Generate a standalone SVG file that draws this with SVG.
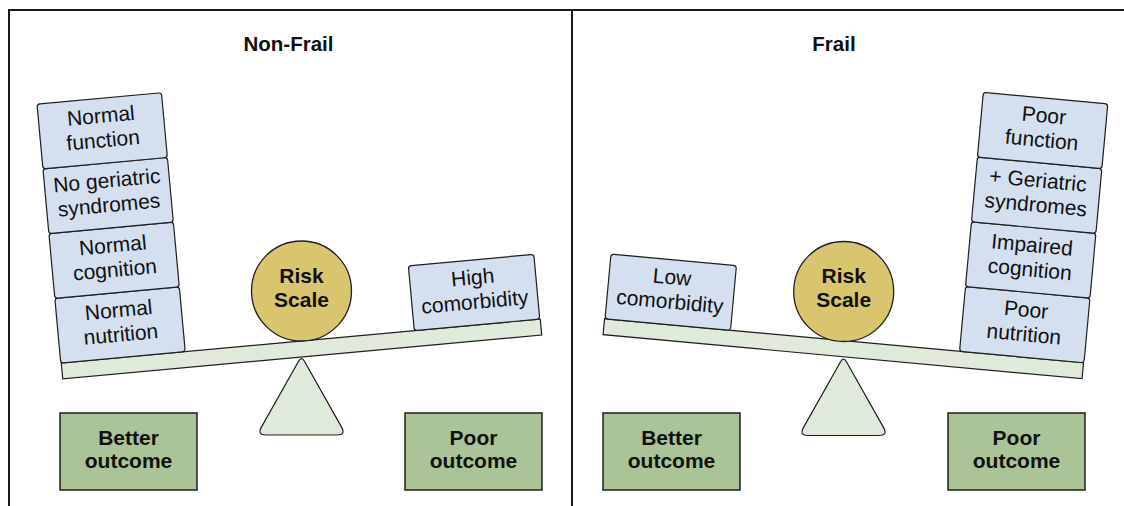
<svg xmlns="http://www.w3.org/2000/svg" width="1124" height="506" viewBox="0 0 1124 506">
  <style>
    .frame { fill: none; stroke: #1a1a1a; stroke-width: 2; }
    .card { fill: #d4dff0; stroke: #1f1f1f; stroke-width: 1.2; }
    .beam { fill: #e0eadb; stroke: #1f1f1f; stroke-width: 1.2; }
    .fulcrum { fill: #e0eadb; stroke: #1f1f1f; stroke-width: 1.2; }
    .weight { fill: #d8c56e; stroke: #1f1f1f; stroke-width: 1.3; }
    .outcome { fill: #aac497; stroke: #1f1f1f; stroke-width: 1.5; }
    .lbl { font-family: "Liberation Sans", Arial, sans-serif; font-size: 21px; fill: #111; text-anchor: middle; }
    .bold { font-family: "Liberation Sans", Arial, sans-serif; font-size: 21px; font-weight: bold; fill: #111; text-anchor: middle; }
    .title { font-family: "Liberation Sans", Arial, sans-serif; font-size: 20.5px; font-weight: bold; fill: #111; text-anchor: middle; }
  </style>
  <defs>
    <path id="tri" d="M-2.94,5.23 Q0,0 2.94,5.23 L40.09,71.16 Q44.5,79 35.5,79 L-35.5,79 Q-44.5,79 -40.09,71.16 Z"/>
  </defs>

  <g id="frame">
    <path class="frame" d="M9,506 V10 H1124"/>
    <line class="frame" x1="572" y1="10" x2="572" y2="506"/>
  </g>

  <g id="title-nonfrail"><text class="title" x="288.5" y="50.5">Non-Frail</text></g>
  <g id="title-frail"><text class="title" x="834" y="50.5">Frail</text></g>

  <!-- Left panel -->
  <g id="fulcrum-left"><use href="#tri" class="fulcrum" transform="translate(301.5,356)"/></g>
  <g transform="translate(301.5,349) rotate(-5.25)">
    <g id="beam-left"><rect class="beam" x="-240.5" y="-8" width="481" height="16"/></g>
    <g id="normal-nutrition">
      <rect class="card" x="-241" y="-73" width="125" height="65" rx="3"/>
      <text class="lbl" x="-178.5" y="-48.5">Normal</text>
      <text class="lbl" x="-178.5" y="-24">nutrition</text>
    </g>
    <g id="normal-cognition">
      <rect class="card" x="-241" y="-138" width="125" height="65" rx="3"/>
      <text class="lbl" x="-178.5" y="-113.5">Normal</text>
      <text class="lbl" x="-178.5" y="-89">cognition</text>
    </g>
    <g id="no-geriatric-syndromes">
      <rect class="card" x="-241" y="-203" width="125" height="65" rx="3"/>
      <text class="lbl" x="-178.5" y="-178.5">No geriatric</text>
      <text class="lbl" x="-178.5" y="-154">syndromes</text>
    </g>
    <g id="normal-function">
      <rect class="card" x="-241" y="-268" width="125" height="65" rx="3"/>
      <text class="lbl" x="-178.5" y="-243.5">Normal</text>
      <text class="lbl" x="-178.5" y="-219">function</text>
    </g>
    <g id="high-comorbidity">
      <rect class="card" x="114" y="-73" width="126" height="65" rx="3"/>
      <text class="lbl" x="177" y="-48.5">High</text>
      <text class="lbl" x="177" y="-24">comorbidity</text>
    </g>
  </g>
  <g id="risk-scale-left">
    <circle class="weight" cx="301.5" cy="291" r="50"/>
    <text class="bold" x="301.5" y="283">Risk</text>
    <text class="bold" x="301.5" y="307">Scale</text>
  </g>
  <g id="better-outcome-left">
    <rect class="outcome" x="60" y="413" width="137" height="77"/>
    <text class="bold" x="128.5" y="444.5">Better</text>
    <text class="bold" x="128.5" y="468">outcome</text>
  </g>
  <g id="poor-outcome-left">
    <rect class="outcome" x="405" y="413" width="137" height="77"/>
    <text class="bold" x="473.5" y="444.5">Poor</text>
    <text class="bold" x="473.5" y="468">outcome</text>
  </g>

  <!-- Right panel -->
  <g id="fulcrum-right"><use href="#tri" class="fulcrum" transform="translate(843.5,356.5)"/></g>
  <g transform="translate(843.3,348.7) rotate(5.25)">
    <g id="beam-right"><rect class="beam" x="-240.5" y="-8" width="481" height="16"/></g>
    <g id="low-comorbidity">
      <rect class="card" x="-240" y="-73" width="126" height="65" rx="3"/>
      <text class="lbl" x="-177" y="-48.5">Low</text>
      <text class="lbl" x="-177" y="-24">comorbidity</text>
    </g>
    <g id="poor-nutrition">
      <rect class="card" x="116" y="-73" width="125" height="65" rx="3"/>
      <text class="lbl" x="178.5" y="-48.5">Poor</text>
      <text class="lbl" x="178.5" y="-24">nutrition</text>
    </g>
    <g id="impaired-cognition">
      <rect class="card" x="116" y="-138" width="125" height="65" rx="3"/>
      <text class="lbl" x="178.5" y="-113.5">Impaired</text>
      <text class="lbl" x="178.5" y="-89">cognition</text>
    </g>
    <g id="geriatric-syndromes">
      <rect class="card" x="116" y="-203" width="125" height="65" rx="3"/>
      <text class="lbl" x="178.5" y="-178.5">+ Geriatric</text>
      <text class="lbl" x="178.5" y="-154">syndromes</text>
    </g>
    <g id="poor-function">
      <rect class="card" x="116" y="-268" width="125" height="65" rx="3"/>
      <text class="lbl" x="178.5" y="-243.5">Poor</text>
      <text class="lbl" x="178.5" y="-219">function</text>
    </g>
  </g>
  <g id="risk-scale-right">
    <circle class="weight" cx="843.7" cy="291.5" r="50"/>
    <text class="bold" x="843.7" y="283">Risk</text>
    <text class="bold" x="843.7" y="307">Scale</text>
  </g>
  <g id="better-outcome-right">
    <rect class="outcome" x="603" y="413" width="137" height="77"/>
    <text class="bold" x="671.5" y="444.5">Better</text>
    <text class="bold" x="671.5" y="468">outcome</text>
  </g>
  <g id="poor-outcome-right">
    <rect class="outcome" x="948" y="413" width="137" height="77"/>
    <text class="bold" x="1016.5" y="444.5">Poor</text>
    <text class="bold" x="1016.5" y="468">outcome</text>
  </g>

  <g id="connectors"/>
</svg>
